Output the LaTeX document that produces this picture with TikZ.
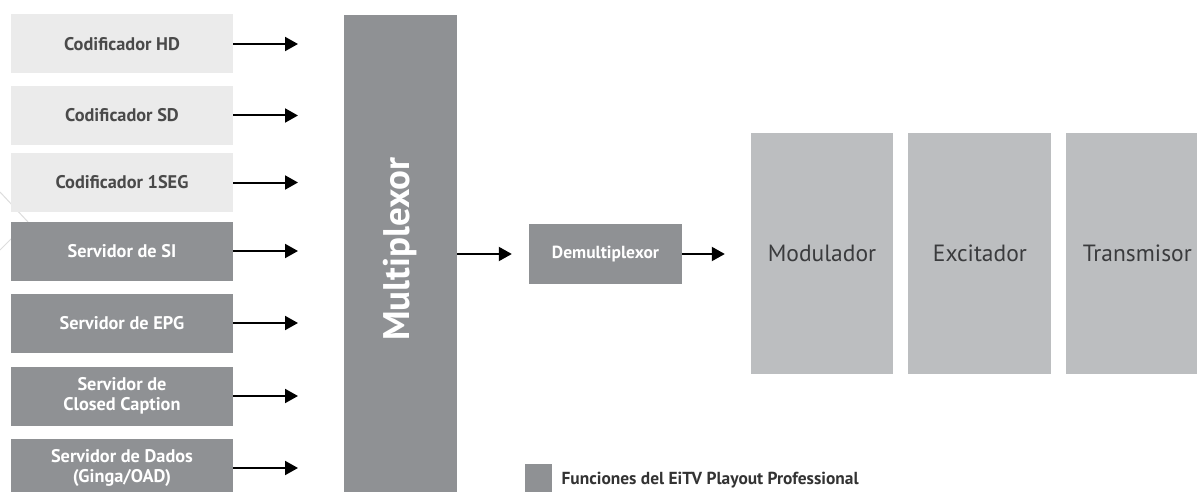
\documentclass[tikz,border=0pt]{standalone}
\usepackage{fontspec}
\setmainfont{PT Sans}
\usepackage{tikz}
\usetikzlibrary{arrows.meta,positioning}
\definecolor{encgray}{HTML}{EBEBEB}
\definecolor{srvgray}{HTML}{8F9194}
\definecolor{rfgray}{HTML}{BCBEC0}
\definecolor{txtgray}{HTML}{4A4A4A}
\definecolor{rftxt}{HTML}{3A3B3D}
\definecolor{linegray}{HTML}{DDDDDD}
\begin{document}
\begin{tikzpicture}[x=1pt,y=-1pt]
\tikzstyle{every node}+=[inner sep=0pt]
\tikzstyle{encbox}=[fill=encgray,text=txtgray,minimum width=222pt,minimum height=59pt,align=center,font=\bfseries\fontsize{18.3}{20.5}\selectfont]
\tikzstyle{srvbox}=[encbox,fill=srvgray,text=white]
\tikzstyle{rfbox}=[fill=rfgray,text=rftxt,minimum width=143pt,minimum height=241pt,font=\fontsize{23.5}{28}\selectfont]
\tikzstyle{feed}=[line width=2pt,-{Triangle[length=13pt,width=14pt]}]
\clip (0,0) rectangle (1197,492);
\fill [white] (0,0) rectangle (1197,492);
\draw [linegray,line width=1pt] (0,192) -- (28,222) -- (0,250);
\node [encbox] (hd) at (122,44) {Codificador HD};
\node [encbox] (sd) at (122,115.5) {Codificador SD};
\node [encbox] (oneseg) at (122,182.5) {Codificador 1SEG};
\node [srvbox] (si) at (122,251) {Servidor de SI};
\node [srvbox] (epg) at (122,323) {Servidor de EPG};
\node [srvbox] (cc) at (122,396) {Servidor de\\Closed Caption};
\node [srvbox] (data) at (122,468) {Servidor de Dados\\(Ginga/OAD)};
\coordinate (feedend) at (298,0);
\foreach \n in {hd,sd,oneseg,si,epg,cc,data}
  \draw [feed] (\n.east) -- (\n.east -| feedend);
\node [fill=srvgray,minimum width=113pt,minimum height=480pt] (mux) at (400.5,255) {};
\node [rotate=90,text=white,font=\bfseries\fontsize{37}{42}\selectfont] (muxlabel) at (400.5,249) {Multiplexor};
\node [fill=srvgray,text=white,minimum width=153pt,minimum height=60pt,font=\bfseries\fontsize{17.5}{20}\selectfont] (demux) at (605.5,254) {Demultiplexor};
\node [rfbox,minimum width=142pt] (mod) at (822,253.5) {Modulador};
\node [rfbox,right=15pt of mod] (exc) {Excitador};
\node [rfbox,right=14pt of exc] (trans) {Transmisor};
\draw [feed,shorten >=17pt] (mux.east |- demux.west) -- (demux.west);
\draw [feed,shorten >=26pt] (demux.east) -- (demux.east -| mod.west);
\node [fill=srvgray,minimum width=27pt,minimum height=32pt,anchor=north west] (key) at (525,464) {};
\node [right=9pt of key,text=black!80,font=\bfseries\fontsize{17.4}{20}\selectfont] (keytext) {Funciones del EiTV Playout Professional};
\end{tikzpicture}
\end{document}
